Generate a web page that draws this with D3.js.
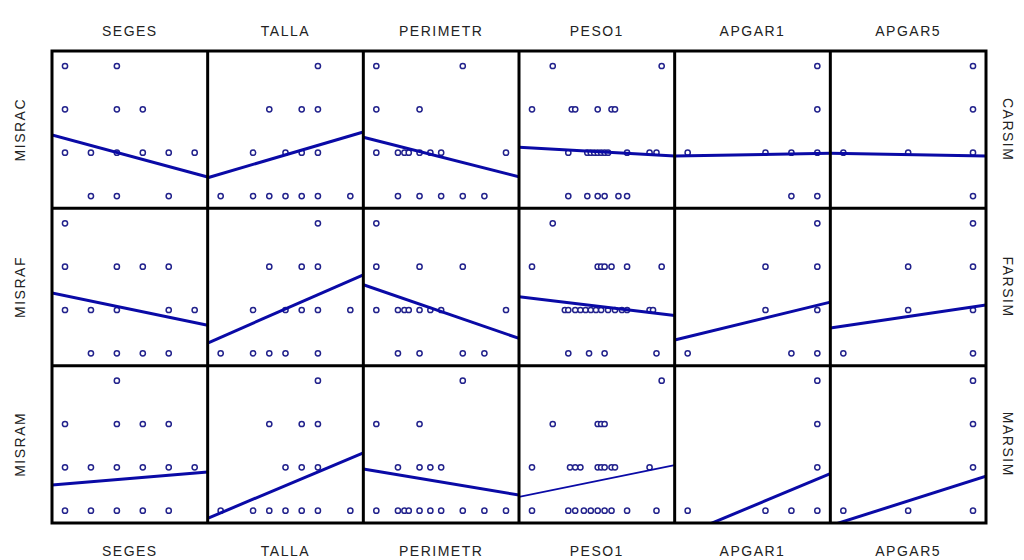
<!DOCTYPE html>
<html>
<head>
<meta charset="utf-8">
<script src="https://cdn.jsdelivr.net/npm/d3@7"></script>
<style>
  body { margin: 0; background: #fff; }
  svg text { font-family: "Liberation Sans", Arial, sans-serif; font-size: 14px; fill: #222; letter-spacing: 1.5px; }
</style>
</head>
<body>
<div id="chart"></div>
<script>
// variables on the columns and rows
var xVars = ["SEGES", "TALLA", "PERIMETR", "PESO1", "APGAR1", "APGAR5"];
var yVars = ["MISRAC", "MISRAF", "MISRAM"];
var yRightLabels = ["CARSIM", "FARSIM", "MARSIM"];

// data extents of the x variables (same order as xVars)
var xMin = [37, 46, 31, 2600, 4, 8];
var xMax = [42, 54, 37, 4100, 9, 10];
var yMin = 1, yMax = 4;

// points [x, y] per cell, one list per column
var misracPoints = [
  [[37,4],[39,4],[37,3],[39,3],[40,3],[37,2],[38,2],[39,2],[40,2],[41,2],[42,2],[38,1],[39,1],[41,1]],
  [[52,4],[49,3],[51,3],[52,3],[48,2],[50,2],[51,2],[52,2],[46,1],[48,1],[49,1],[50,1],[51,1],[52,1],[54,1]],
  [[31,4],[35,4],[31,3],[33,3],[31,2],[32,2],[32.3,2],[32.5,2],[33,2],[33.5,2],[34,2],[37,2],[32,1],[33,1],[34,1],[35,1],[36,1]],
  [[2840,4],[4100,4],[2600,3],[3060,3],[3100,3],[3360,3],[3520,3],[3560,3],[3020,2],[3240,2],[3280,2],[3320,2],[3360,2],[3400,2],[3440,2],[3480,2],[3700,2],[3960,2],[4040,2],[3020,1],[3240,1],[3360,1],[3440,1],[3600,1],[3700,1]],
  [[9,4],[9,3],[4,2],[7,2],[8,2],[9,2],[8,1],[9,1]],
  [[10,4],[10,3],[8,2],[9,2],[10,2],[10,1]]
];
var misrafPoints = [
  [[37,4],[37,3],[39,3],[40,3],[41,3],[37,2],[38,2],[39,2],[41,2],[42,2],[38,1],[39,1],[40,1],[41,1]],
  [[52,4],[49,3],[51,3],[52,3],[48,2],[50,2],[51,2],[52,2],[54,2],[46,1],[48,1],[49,1],[50,1],[52,1]],
  [[31,4],[31,3],[33,3],[35,3],[31,2],[32,2],[32.3,2],[32.5,2],[33,2],[33.5,2],[34,2],[37,2],[32,1],[33,1],[35,1],[36,1]],
  [[2840,4],[2600,3],[3360,3],[3400,3],[3440,3],[3520,3],[3700,3],[4100,3],[2980,2],[3020,2],[3100,2],[3160,2],[3220,2],[3280,2],[3340,2],[3400,2],[3480,2],[3560,2],[3640,2],[3700,2],[3960,2],[4000,2],[3020,1],[3260,1],[3440,1],[4040,1]],
  [[9,4],[7,3],[9,3],[7,2],[9,2],[4,1],[8,1],[9,1]],
  [[10,4],[9,3],[10,3],[9,2],[10,2],[8,1],[10,1]]
];
var misramPoints = [
  [[39,4],[37,3],[39,3],[40,3],[41,3],[37,2],[38,2],[39,2],[40,2],[41,2],[42,2],[37,1],[38,1],[39,1],[40,1],[41,1]],
  [[52,4],[49,3],[51,3],[52,3],[50,2],[51,2],[52,2],[46,1],[48,1],[49,1],[50,1],[51,1],[52,1],[54,1]],
  [[35,4],[31,3],[33,3],[32,2],[33,2],[33.5,2],[34,2],[31,1],[32,1],[32.3,1],[32.5,1],[33,1],[33.5,1],[34,1],[35,1],[36,1],[37,1]],
  [[4100,4],[2840,3],[3360,3],[3400,3],[3440,3],[2600,2],[3040,2],[3100,2],[3160,2],[3360,2],[3400,2],[3440,2],[3520,2],[3560,2],[3960,2],[2600,1],[3020,1],[3100,1],[3200,1],[3280,1],[3360,1],[3440,1],[3520,1],[3700,1],[4040,1]],
  [[9,4],[9,3],[9,2],[4,1],[7,1],[8,1],[9,1]],
  [[10,4],[10,3],[10,2],[8,1],[9,1],[10,1]]
];

// fitted line: predicted y at xMin and at xMax of each column
var misracFit = [[2.33,1.52],[1.51,2.39],[2.28,1.52],[2.11,1.94],[1.93,1.98],[1.98,1.93]];
var misrafFit = [[2.33,1.71],[1.37,2.68],[2.48,1.45],[2.27,1.91],[1.38,2.11],[1.63,2.07]];
var misramFit = [[1.62,1.87],[0.95,2.21],[1.91,1.41],[1.38,1.99],[0.48,1.73],[0.75,1.70]];

var allPoints = [misracPoints, misrafPoints, misramPoints];
var allFits = [misracFit, misrafFit, misramFit];

var svgWidth = 1024, svgHeight = 560;
var gridLeft = 52, gridRight = 986, gridTop = 51, gridBottom = 523;
var cw = (gridRight - gridLeft) / xVars.length;
var ch = (gridBottom - gridTop) / yVars.length;

var svg = d3.select('#chart')
  .append('svg')
  .attr('width', svgWidth)
  .attr('height', svgHeight);

var yScale = d3.scaleLinear().domain([yMin, yMax]).range([ch - 12.3, 15]);

var lineGen = d3.line().x(d => d[0]).y(d => d[1]);

yVars.forEach((yv, i) => {
  xVars.forEach((xv, j) => {
    var xScale = d3.scaleLinear().domain([xMin[j], xMax[j]]).range([13, cw - 13]);

    var cell = svg.append('g')
      .attr('transform', 'translate(' + (gridLeft + j * cw) + ',' + (gridTop + i * ch) + ')');

    var clipId = 'clip-' + i + '-' + j;
    cell.append('clipPath').attr('id', clipId)
      .append('rect').attr('width', cw).attr('height', ch);

    var inner = cell.append('g').attr('clip-path', 'url(#' + clipId + ')');

    // points
    inner.selectAll('circle')
      .data(allPoints[i][j])
      .enter()
      .append('circle')
      .attr('cx', d => xScale(d[0]))
      .attr('cy', d => yScale(d[1]))
      .attr('r', 2.6)
      .attr('fill', '#fff')
      .attr('stroke', '#22228c')
      .attr('stroke-width', 1.5);

    // regression line, extended to the cell edges
    var fit = allFits[i][j];
    var slope = (fit[1] - fit[0]) / (xMax[j] - xMin[j]);
    var x0 = xScale.invert(0), x1 = xScale.invert(cw);
    var ends = [x0, x1].map(x => [xScale(x), yScale(fit[0] + slope * (x - xMin[j]))]);

    inner.append('path')
      .attr('d', lineGen(ends))
      .attr('fill', 'none')
      .attr('stroke', '#0a0aa6')
      .attr('stroke-width', (i == 2 && j == 3) ? 1.6 : 3);
  });
});

// grid borders
for (var j = 1; j < xVars.length; j++) {
  svg.append('line')
    .attr('x1', gridLeft + j * cw).attr('x2', gridLeft + j * cw)
    .attr('y1', gridTop).attr('y2', gridBottom)
    .attr('stroke', '#000').attr('stroke-width', 3);
}
for (var i = 1; i < yVars.length; i++) {
  svg.append('line')
    .attr('x1', gridLeft).attr('x2', gridRight)
    .attr('y1', gridTop + i * ch).attr('y2', gridTop + i * ch)
    .attr('stroke', '#000').attr('stroke-width', 3);
}
svg.append('rect')
  .attr('x', gridLeft).attr('y', gridTop)
  .attr('width', gridRight - gridLeft).attr('height', gridBottom - gridTop)
  .attr('fill', 'none').attr('stroke', '#000').attr('stroke-width', 3);

// column titles, top and bottom
xVars.forEach((xv, j) => {
  svg.append('text')
    .attr('x', gridLeft + j * cw + cw / 2)
    .attr('y', 36)
    .style('text-anchor', 'middle')
    .text(xv);
  svg.append('text')
    .attr('x', gridLeft + j * cw + cw / 2)
    .attr('y', 556)
    .style('text-anchor', 'middle')
    .text(xv);
});

// row titles, left and right
yVars.forEach((yv, i) => {
  var cy = gridTop + i * ch + ch / 2;
  svg.append('text')
    .attr('transform', 'translate(25,' + cy + ') rotate(-90)')
    .style('text-anchor', 'middle')
    .text(yv);
  svg.append('text')
    .attr('transform', 'translate(1003,' + cy + ') rotate(90)')
    .style('text-anchor', 'middle')
    .text(yRightLabels[i]);
});
</script>
</body>
</html>
